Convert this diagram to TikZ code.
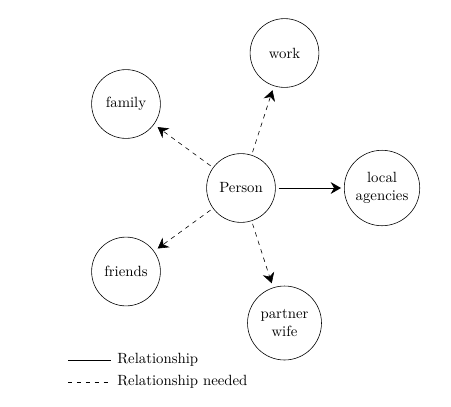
\documentclass[tikz,border=0pt]{standalone}
\usetikzlibrary{arrows.meta}
\begin{document}
\begin{tikzpicture}[x=0.676pt,y=-0.676pt,
  entity/.style={draw,circle,minimum size=46.5pt,align=center,inner sep=1pt},
  rel/.style={-{Stealth[length=7pt,width=8pt]},semithick,shorten >=2pt,shorten <=2pt},
  relneed/.style={-{Stealth[length=7pt,width=8pt]},dashed,shorten >=3pt,shorten <=2pt},
  legtext/.style={anchor=west,inner sep=0pt}]
\useasboundingbox (0,0) rectangle (451,406);
\node[entity] (p) at (241,188) {Person};
\node[entity] (work) at (284.5,53) {work};
\node[entity] (fam) at (126,104) {family};
\node[entity,minimum size=51pt] (loc) at (382,188) {local\\agencies};
\node[entity] (fr) at (126,271.5) {friends};
\node[entity,minimum size=50pt] (pw) at (284.5,323) {partner\\wife};
\draw[rel] (p) -- (loc);
\draw[relneed] (p) -- (work);
\draw[relneed] (p) -- (fam);
\draw[relneed] (p) -- (fr);
\draw[relneed] (p) -- (pw);
\coordinate (l1a) at (68,360);
\coordinate (l1b) at (111,360);
\coordinate (l2a) at (68,382);
\coordinate (l2b) at (111,382);
\draw (l1a) -- (l1b);
\draw[dashed] (l2a) -- (l2b);
\node[legtext] (t1) at (117,360) {Relationship};
\node[legtext] (t2) at (117,382) {Relationship needed};
\end{tikzpicture}
\end{document}
